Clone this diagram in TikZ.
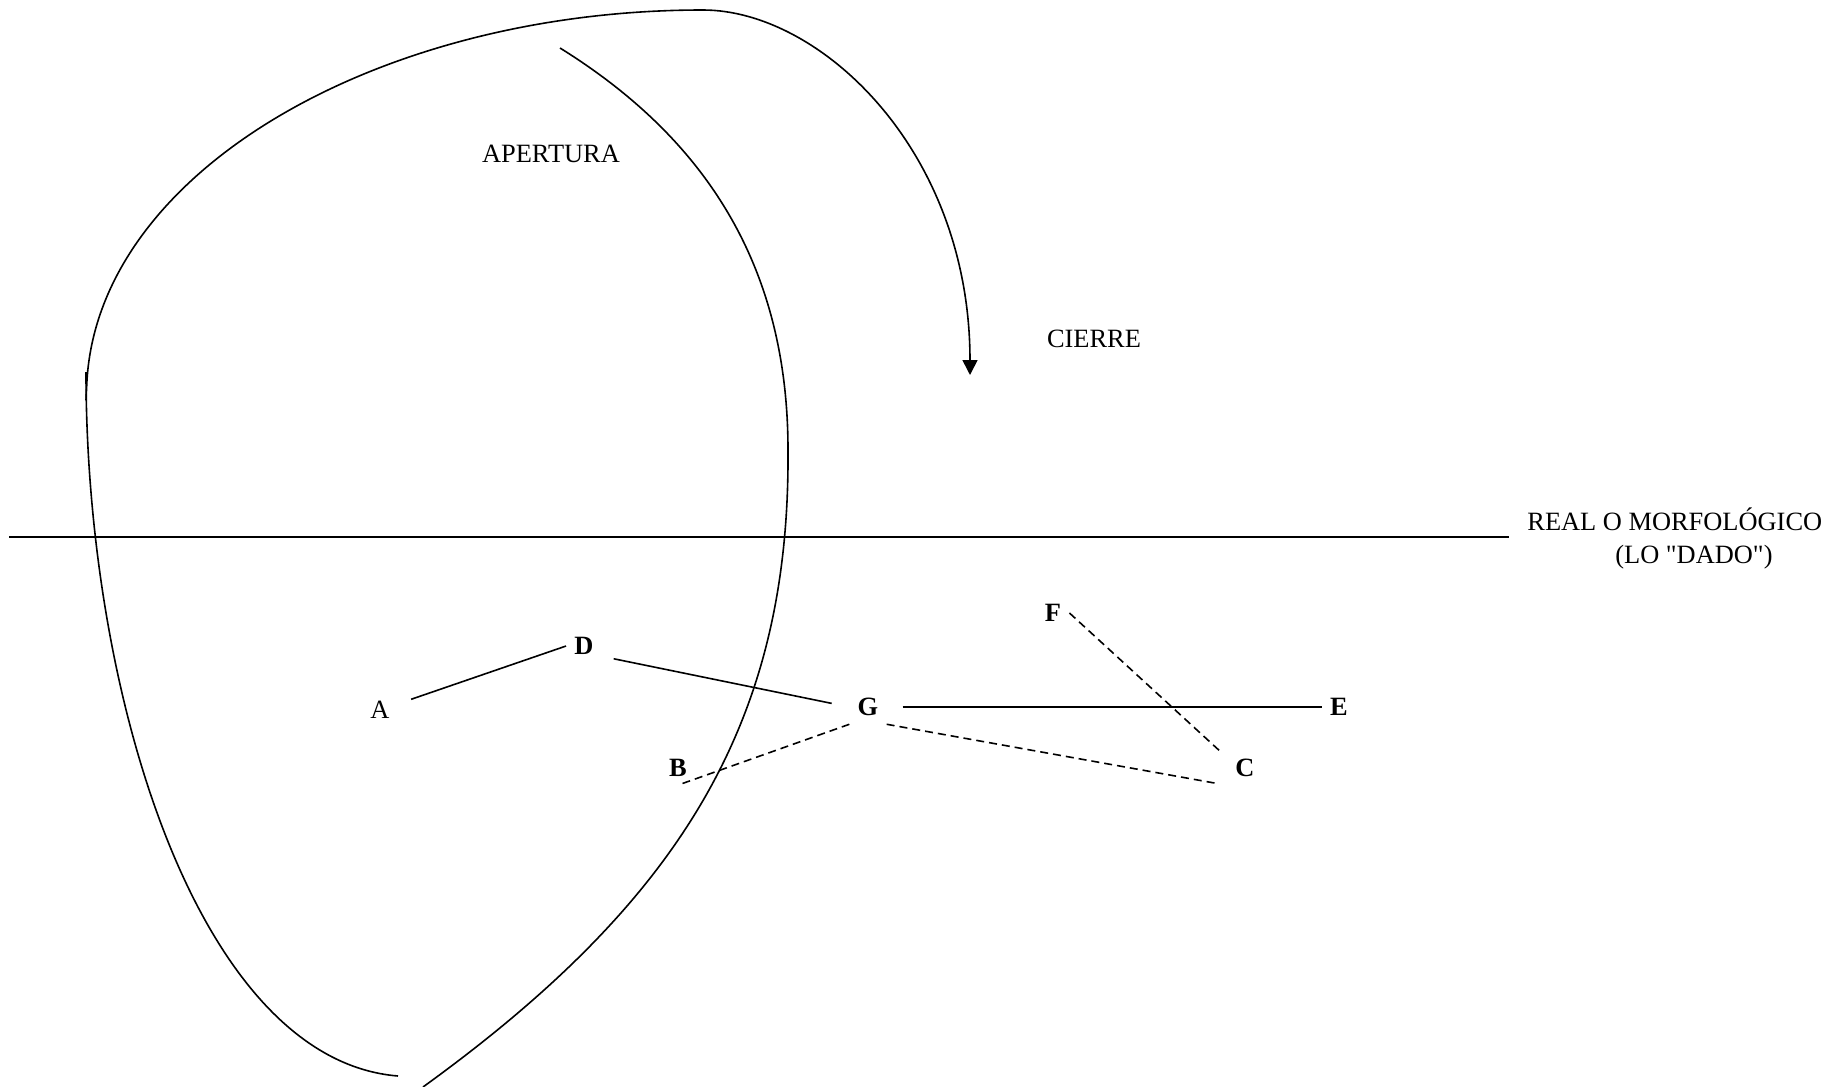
\documentclass[tikz,border=0pt]{standalone}
\usepackage{fontspec}
\setmainfont{Liberation Serif}[Ligatures=TeXOff]
\usetikzlibrary{arrows.meta}
\tikzset{
  rotulo/.style={font=\fontsize{13.2}{16.5}\selectfont,inner sep=0pt},
  letra/.style={font=\fontsize{13.2}{16.5}\selectfont\bfseries,inner sep=4pt},
  linea/.style={line width=0.8pt},
  trazo/.style={line width=0.8pt,dash pattern=on 4pt off 2.5pt},
  flecha/.style={line width=0.8pt,-{Triangle[width=7.5pt,length=7.5pt]}}
}

\begin{document}
\begin{tikzpicture}[x=0.5pt,y=-0.5pt]
\useasboundingbox (0,0) rectangle (1838,1087);
% curvas de apertura y cierre
\draw[flecha] (86,400) -- (87,380) .. controls (100,170) and (380,10) .. (703,10)
  .. controls (820,10) and (970,150) .. (970,375);
\draw[linea] (86,372) .. controls (86,700) and (200,1060) .. (398,1076);
\draw[linea] (560,48) .. controls (700,135) and (788,260) .. (788,450)
  .. controls (790,720) and (683,899) .. (423,1087);
\draw[linea] (9,537) -- (1509,537);
\node[rotulo] (apertura) at (551,154) {APERTURA};
\node[rotulo] (cierre) at (1094,339) {CIERRE};
\node[rotulo,anchor=west,align=left] (real) at (1527,538) {REAL O MORFOLÓGICO\\\hspace*{44pt}(LO "DADO")};
% puntos
\node[letra] (A) at (380,710) {\mdseries A};
\node[letra] (D) at (584,646) {D};
\node[letra] (G) at (868,707) {G};
\node[letra] (B) at (678,768) {B};
\node[letra] (E) at (1339,707) {E};
\node[letra] (F) at (1053,613) {F};
\node[letra] (C) at (1245,768) {C};
\draw[linea,shorten <=7pt] (A) -- (D.west);
\draw[linea,shorten <=6pt,shorten >=9pt] (D.-30) -- (G.west);
\draw[linea,shorten <=8pt] (G.east) -- (E.west);
\draw[trazo] (G.south west) -- (B.south);
\draw[trazo,shorten >=5pt] (G.south east) -- (C.south west);
\draw[trazo,shorten >=5pt] (F.east) -- (C.150);
\end{tikzpicture}
\end{document}
